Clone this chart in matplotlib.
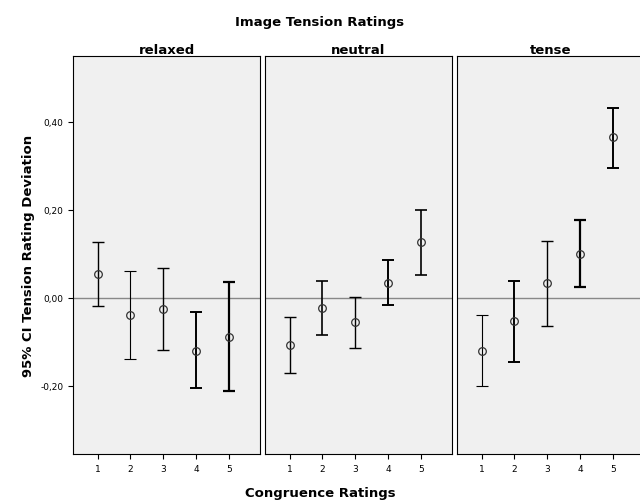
import numpy as np
import matplotlib.pyplot as plt

panels = ['relaxed', 'neutral', 'tense']
x = [1, 2, 3, 4, 5]
means = {
    'relaxed': [0.055, -0.040, -0.025, -0.120, -0.090],
    'neutral': [-0.107, -0.022, -0.055, 0.033, 0.127],
    'tense': [-0.120, -0.053, 0.033, 0.100, 0.365],
}
lows = {
    'relaxed': [-0.018, -0.140, -0.118, -0.205, -0.212],
    'neutral': [-0.170, -0.085, -0.113, -0.017, 0.052],
    'tense': [-0.200, -0.145, -0.063, 0.025, 0.295],
}
highs = {
    'relaxed': [0.128, 0.060, 0.067, -0.032, 0.035],
    'neutral': [-0.043, 0.038, 0.003, 0.085, 0.200],
    'tense': [-0.040, 0.038, 0.130, 0.178, 0.432],
}
widths = {
    'relaxed': [1.0, 0.8, 1.0, 1.4, 1.6],
    'neutral': [1.0, 1.2, 1.0, 1.4, 1.2],
    'tense': [0.8, 1.4, 1.0, 1.6, 1.4],
}

fig = plt.figure(figsize=(6.4, 5.02), dpi=100)
lefts = [73, 265, 457]
for i, name in enumerate(panels):
    ax = fig.add_axes([lefts[i] / 640, (502 - 455) / 502, 187 / 640, (455 - 57) / 502])
    ax.set_facecolor('#f0f0f0')
    ax.axhline(0, color='#888888', lw=1)
    m = np.array(means[name])
    lo = np.array(lows[name])
    hi = np.array(highs[name])
    for j in range(5):
        ax.errorbar(x[j], m[j], yerr=[[m[j] - lo[j]], [hi[j] - m[j]]], fmt='none',
                    ecolor='black', elinewidth=widths[name][j], capsize=4,
                    capthick=widths[name][j])
    ax.plot(x, m, 'o', mfc='none', mec='#333333', ms=5.5, mew=0.9)
    ax.set_xlim(0.25, 5.95)
    ax.set_ylim(-0.355, 0.55)
    ax.set_xticks(x)
    ax.set_xticklabels([str(v) for v in x], fontsize=6.5)
    ax.set_yticks([-0.2, 0.0, 0.2, 0.4])
    if i == 0:
        ax.set_yticklabels(['-0,20', '0,00', '0,20', '0,40'], fontsize=6.5)
        ax.set_ylabel('95% CI Tension Rating Deviation', fontsize=9.5, fontweight='bold')
    else:
        ax.tick_params(axis='y', left=False, labelleft=False)
    ax.set_title(name, fontsize=9.5, fontweight='bold', pad=2)
    for s in ax.spines.values():
        s.set_color('black')
        s.set_linewidth(0.8)

fig.text(0.5, 0.948, 'Image Tension Ratings', ha='center', fontsize=9.5, fontweight='bold')
fig.text(0.5, 0.01, 'Congruence Ratings', ha='center', fontsize=9.5, fontweight='bold')
fig.savefig('out.png', dpi=100)
